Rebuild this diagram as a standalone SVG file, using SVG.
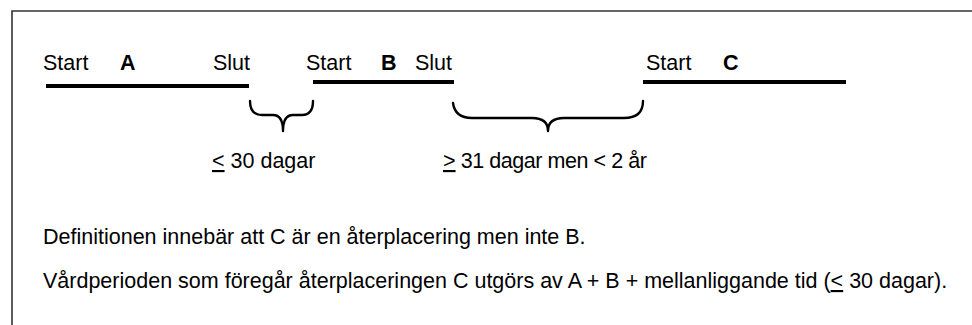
<svg xmlns="http://www.w3.org/2000/svg" width="972" height="325" viewBox="0 0 972 325">
  <style>
    text { font-family: "Liberation Sans", Arial, sans-serif; font-size: 21.5px; fill: #000; }
    .b { font-weight: bold; }
    .bar { stroke: #000; stroke-width: 4; fill: none; }
    .brace { stroke: #000; stroke-width: 2.4; fill: none; stroke-linecap: round; stroke-linejoin: round; }
    .frame { stroke: #333; stroke-width: 1.6; fill: none; }
  </style>
  <rect width="972" height="325" fill="#fff"/>
  <path class="frame" d="M12,330 V11 H980"/>

  <g id="period-a">
    <text x="43" y="70">Start</text>
    <text class="b" x="120" y="70">A</text>
    <text x="213" y="70">Slut</text>
    <line class="bar" x1="46" y1="86" x2="249" y2="86"/>
  </g>

  <g id="period-b">
    <text x="306" y="70">Start</text>
    <text class="b" x="381" y="70">B</text>
    <text x="415" y="70">Slut</text>
    <line class="bar" x1="313" y1="82" x2="454" y2="82"/>
  </g>

  <g id="period-c">
    <text x="646" y="70">Start</text>
    <text class="b" x="723" y="70">C</text>
    <line class="bar" x1="643" y1="82" x2="846" y2="82"/>
  </g>

  <g id="connectors">
    <path class="brace" d="M250,101 Q250,115 262,115 H273 Q283,115 283,131 Q283,115 293,115 H302 Q313,115 313,101"/>
    <path class="brace" d="M453,103 Q455,118 472,118 H532 Q548,118 548,131 Q548,118 564,118 H624 Q643,118 643,101"/>
  </g>

  <g id="gap-short">
    <text x="212" y="168"><tspan text-decoration="underline">&lt;</tspan> 30 dagar</text>
  </g>

  <g id="gap-long">
    <text x="443" y="168" textLength="204" lengthAdjust="spacing"><tspan text-decoration="underline">&gt;</tspan> 31 dagar men &lt; 2 år</text>
  </g>

  <g id="notes">
    <text x="43" y="244">Definitionen innebär att C är en återplacering men inte B.</text>
    <text x="43" y="288">Vårdperioden som föregår återplaceringen C utgörs av A + B + mellanliggande tid (<tspan text-decoration="underline">&lt;</tspan> 30 dagar).</text>
  </g>
</svg>
